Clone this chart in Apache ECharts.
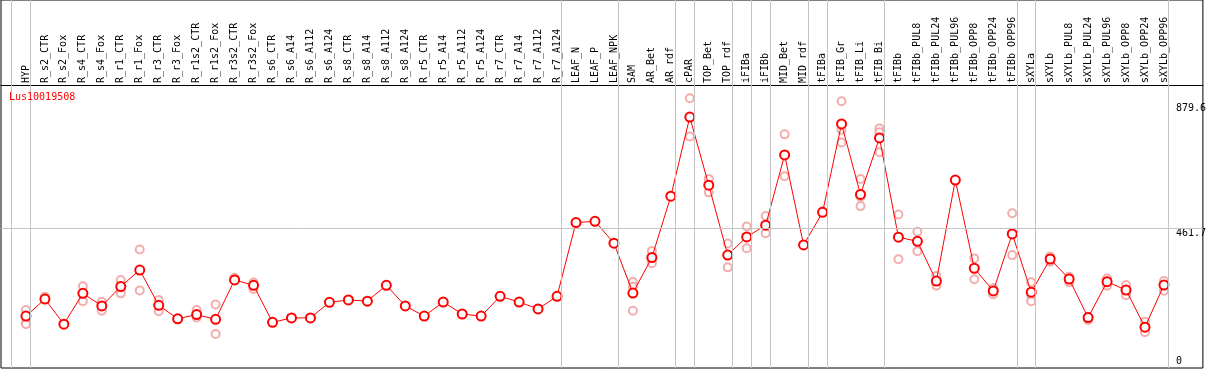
<!DOCTYPE html>
<html>
<head>
<meta charset="utf-8">
<script src="https://cdn.jsdelivr.net/npm/echarts@6/dist/echarts.min.js"></script>
<style>html,body{margin:0;padding:0;background:#fff}#c{width:1209px;height:370px}</style>
</head>
<body>
<div id="c"></div>
<script>
const categories = ["HYP","R_s2_CTR","R_s2_Fox","R_s4_CTR","R_s4_Fox","R_r1_CTR","R_r1_Fox","R_r3_CTR","R_r3_Fox","R_r1s2_CTR","R_r1s2_Fox","R_r3s2_CTR","R_r3s2_Fox","R_s6_CTR","R_s6_A14","R_s6_A112","R_s6_A124","R_s8_CTR","R_s8_A14","R_s8_A112","R_s8_A124","R_r5_CTR","R_r5_A14","R_r5_A112","R_r5_A124","R_r7_CTR","R_r7_A14","R_r7_A112","R_r7_A124","LEAF_N","LEAF_P","LEAF_NPK","SAM","AR_Bet","AR_rdf","cPAR","TOP_Bet","TOP_rdf","iFIBa","iFIBb","MID_Bet","MID_rdf","tFIBa","tFIB_Gr","tFIB_Li","tFIB_Bi","tFIBb","tFIBb_PUL8","tFIBb_PUL24","tFIBb_PUL96","tFIBb_OPP8","tFIBb_OPP24","tFIBb_OPP96","sXYLa","sXYLb","sXYLb_PUL8","sXYLb_PUL24","sXYLb_PUL96","sXYLb_OPP8","sXYLb_OPP24","sXYLb_OPP96"];

const means = [167,224,140,243,201,266,321,203,158,172,156,288,270,146,161,161,213,221,217,270,201,167,214,174,167,233,214,191,233,480,484,411,244,363,568,833,605,371,432,471,706,405,514,810,574,763,431,417,284,622,327,251,442,247,358,291,162,282,254,130,271];

const replicates = [[187,145,140],[232,225],[],[267,217],[215,185],[288,243],[390,253],[221,183],[],[187,162],[206,107],[295],[279,258],[],[],[],[],[],[],[],[],[],[],[],[],[],[],[],[],[],[],[],[281,265,185],[385,344],[],[896,768],[626,581],[410,330],[467,394],[502,444],[775,635],[],[518],[886,790,748],[626,566,535],[795,782,715],[507,357],[449,384],[301,269],[],[360,290],[260,240],[511,371],[280,237,217],[366,349],[299,280],[165,154],[293,269],[271,237],[148,113],[284,252]];

const yTickValues = [461.7, 879.6];
const yZeroTick = [0];
const groupEnds = [-1, 0, 28, 31, 34, 35, 37, 38, 39, 41, 42, 45, 52, 53, 60];
const title = "Lus10019508";

const mono = "DejaVu Sans Mono";
const meanData = means.map((v, i) => [i, v]);
const repData = [];
replicates.forEach((arr, i) => arr.forEach(v => repData.push([i, v])));

const sepLines = groupEnds.map(g => ({ xAxis: g + 4.5 / 19 }));
sepLines.push({ yAxis: 461.7 });

const chart = echarts.init(document.getElementById('c'), null, { renderer: 'canvas' });
chart.setOption({
  animation: false,
  backgroundColor: '#fff',
  title: {
    text: title, left: 9, top: 92, padding: 0,
    textStyle: { color: '#ff0000', fontSize: 10, fontFamily: mono, fontWeight: 'normal' }
  },
  grid: {
    left: 1, right: 4, top: 0, bottom: 2, show: true,
    borderColor: '#000', borderWidth: 1, backgroundColor: 'transparent'
  },
  xAxis: {
    type: 'value', min: -25 / 19, max: -25 / 19 + 1204 / 19,
    position: 'top', offset: -85,
    axisLine: { show: true, onZero: false, lineStyle: { color: '#000', width: 1 } },
    axisTick: { show: false },
    splitLine: { show: false },
    axisLabel: {
      customValues: categories.map((c, i) => i),
      rotate: -90, margin: 2, color: '#000',
      fontSize: 10, fontFamily: mono,
      formatter: v => categories[Math.round(v)] || ''
    }
  },
  yAxis: [{
    type: 'value', min: -2 * 461.7 / 138, max: 366 * 461.7 / 138,
    position: 'right',
    axisLine: { show: false }, axisTick: { show: false }, splitLine: { show: false },
    axisLabel: {
      inside: true, customValues: yTickValues, align: 'left', verticalAlign: 'top',
      margin: 27, color: '#000', fontSize: 10, fontFamily: mono,
      formatter: v => String(v)
    }
  }, {
    type: 'value', min: -2 * 461.7 / 138, max: 366 * 461.7 / 138,
    position: 'right',
    axisLine: { show: false }, axisTick: { show: false }, splitLine: { show: false },
    axisLabel: {
      inside: true, customValues: yZeroTick, align: 'left', verticalAlign: 'bottom',
      margin: 27, color: '#000', fontSize: 10, fontFamily: mono,
      formatter: v => String(v)
    }
  }],
  series: [{
    type: 'scatter', data: repData, z: 2,
    symbol: 'emptyCircle', symbolSize: 8,
    itemStyle: { color: '#f09898', borderColor: '#f09898', borderWidth: 1.3 },
    silent: true,
    markLine: {
      silent: true, symbol: ['none', 'none'], label: { show: false },
      lineStyle: { color: '#c4c4c4', type: 'solid', width: 1 },
      emphasis: { disabled: true },
      data: sepLines
    }
  }, {
    type: 'line', data: meanData, z: 3,
    symbol: 'emptyCircle', symbolSize: 9, showAllSymbol: true,
    lineStyle: { color: '#ff0000', width: 1 },
    itemStyle: { color: '#ff0000', borderColor: '#ff0000', borderWidth: 1.8 },
    silent: true
  }]
});
</script>
</body>
</html>
